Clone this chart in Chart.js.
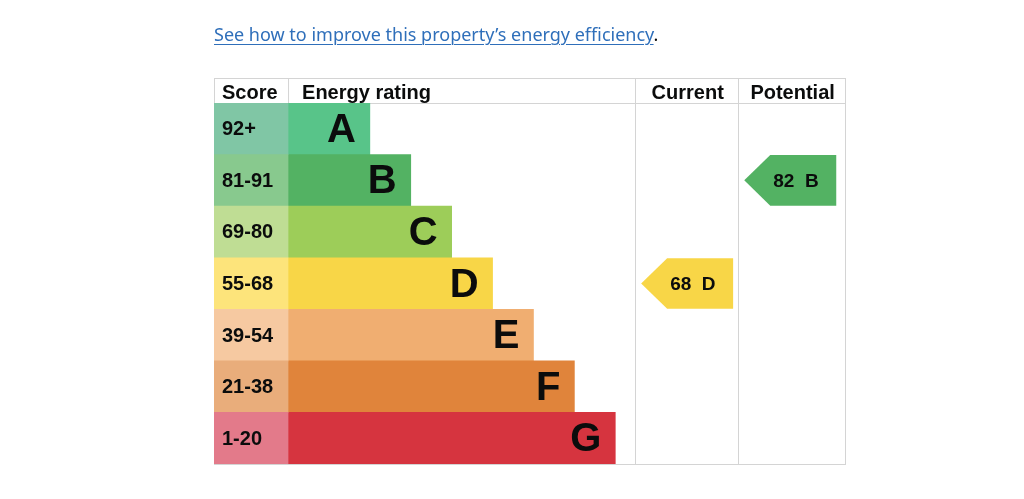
<!DOCTYPE html>
<html lang="en">
<head>
<meta charset="UTF-8">
<title>Energy rating</title>
<style>
  body { margin: 0; background: #fff; }
  .wrap { position: relative; width: 1024px; height: 499px; }
  #ratingChart { position: absolute; left: 0; top: 0; }
  .improve {
    position: absolute; left: 214px; top: 22px; margin: 0;
    font-family: "Noto Sans", Arial, sans-serif; font-size: 18px; color: #0b0c0c;
  }
  .improve a {
    color: #2f6fba; text-decoration: underline;
    text-decoration-thickness: 1px; text-underline-offset: 3px;
  }
</style>
</head>
<body>
<div class="wrap">
  <canvas id="ratingChart" width="1024" height="499"></canvas>
  <p class="improve"><a href="#">See how to improve this property’s energy efficiency</a>.</p>
</div>

<script src="https://cdn.jsdelivr.net/npm/chart.js"></script>
<script>
    const bands = ['A', 'B', 'C', 'D', 'E', 'F', 'G'];
    const scoreRanges = ['92+', '81-91', '69-80', '55-68', '39-54', '21-38', '1-20'];
    const bandMin = [92, 81, 69, 55, 39, 21, 1];
    const barLength = [2, 3, 4, 5, 6, 7, 8];
    const bandColours = ['#58c489', '#53b263', '#9dcd59', '#f8d647', '#f0ae71', '#e0843b', '#d6343f'];
    const scoreColours = ['#80c6a5', '#88c98e', '#bfdd94', '#fde47b', '#f6c9a1', '#e9ad7b', '#e37a8a'];
    const currentScore = 68;
    const potentialScore = 82;

    // column edges, in bar-length units
    const colScore = -1.81;
    const colCurrent = 8.51;
    const colPotential = 11.03;
    const colEnd = 13.64;

    const textColour = '#0b0c0c';
    const lineColour = '#d4d4d4';
    const fontFamily = '"Liberation Sans", Arial, sans-serif';

    function bandFor(score) {
        for (let i = 0; i < bandMin.length; i++) {
            if (score >= bandMin[i]) return i;
        }
        return bandMin.length - 1;
    }

    const epcPlugin = {
        id: 'epc',
        beforeDatasetsDraw(chart) {
            const { ctx, chartArea, scales } = chart;
            const x = scales.x;
            const top = chartArea.top - 25;
            const bottom = chartArea.bottom;
            ctx.save();
            ctx.strokeStyle = lineColour;
            ctx.lineWidth = 1;
            ctx.beginPath();
            // horizontal lines
            [top, chartArea.top, bottom].forEach(y => {
                ctx.moveTo(chartArea.left, y + 0.5);
                ctx.lineTo(chartArea.right, y + 0.5);
            });
            // header-only dividers
            [x.getPixelForValue(colScore), x.getPixelForValue(0)].forEach(px => {
                ctx.moveTo(px + 0.5, top);
                ctx.lineTo(px + 0.5, chartArea.top);
            });
            // full height dividers
            [colCurrent, colPotential, colEnd].forEach(v => {
                const px = Math.round(x.getPixelForValue(v));
                ctx.moveTo(px - 0.5, top);
                ctx.lineTo(px - 0.5, bottom + 1);
            });
            ctx.moveTo(chartArea.left + 0.5, chartArea.top);
            ctx.lineTo(chartArea.left + 0.5, bottom + 1);
            ctx.stroke();

            // header text
            ctx.fillStyle = textColour;
            ctx.font = 'bold 20px ' + fontFamily;
            ctx.textBaseline = 'alphabetic';
            const base = chartArea.top - 4;
            ctx.textAlign = 'left';
            ctx.fillText('Score', chartArea.left + 8, base);
            ctx.fillText('Energy rating', x.getPixelForValue(0) + 14, base);
            ctx.textAlign = 'center';
            ctx.fillText('Current', (x.getPixelForValue(colCurrent) + x.getPixelForValue(colPotential)) / 2, base);
            ctx.fillText('Potential', (x.getPixelForValue(colPotential) + x.getPixelForValue(colEnd)) / 2, base);
            ctx.restore();
        },
        afterDatasetsDraw(chart) {
            const { ctx, chartArea, scales } = chart;
            const x = scales.x, y = scales.y;
            const rowH = chartArea.height / bands.length;
            ctx.save();
            ctx.fillStyle = textColour;
            ctx.textBaseline = 'middle';

            // score ranges
            ctx.font = 'bold 20px ' + fontFamily;
            ctx.textAlign = 'left';
            scoreRanges.forEach((label, i) => {
                ctx.fillText(label, chartArea.left + 8, y.getPixelForValue(i) + 1);
            });

            // band letters
            ctx.font = 'bold 40px ' + fontFamily;
            ctx.textAlign = 'right';
            bands.forEach((band, i) => {
                ctx.fillText(band, x.getPixelForValue(barLength[i]) - 14, y.getPixelForValue(i) + 2);
            });

            // current / potential arrows
            const arrow = (score, colLeft) => {
                const i = bandFor(score);
                const yc = y.getPixelForValue(i);
                const h = rowH / 2 - 0.5;
                const x0 = x.getPixelForValue(colLeft) + 5;
                ctx.fillStyle = bandColours[i];
                ctx.beginPath();
                ctx.moveTo(x0, yc);
                ctx.lineTo(x0 + 26, yc - h);
                ctx.lineTo(x0 + 92, yc - h);
                ctx.lineTo(x0 + 92, yc + h);
                ctx.lineTo(x0 + 26, yc + h);
                ctx.closePath();
                ctx.fill();
                ctx.fillStyle = textColour;
                ctx.font = 'bold 19px ' + fontFamily;
                ctx.textAlign = 'left';
                ctx.fillText(score + '  ' + bands[i], x0 + 29, yc + 1);
            };
            arrow(currentScore, colCurrent);
            arrow(potentialScore, colPotential);
            ctx.restore();
        }
    };

    const ctx = document.getElementById('ratingChart').getContext('2d');
    const chart = new Chart(ctx, {
        type: 'bar',
        data: {
            labels: bands,
            datasets: [
                {
                    label: 'Score',
                    data: bands.map(() => [colScore, 0]),
                    backgroundColor: scoreColours,
                    grouped: false,
                    borderWidth: 0,
                    categoryPercentage: 1,
                    barPercentage: 1
                },
                {
                    label: 'Energy rating',
                    data: barLength.map(v => [0, v]),
                    backgroundColor: bandColours,
                    grouped: false,
                    borderWidth: 0,
                    categoryPercentage: 1,
                    barPercentage: 1
                }
            ]
        },
        options: {
            indexAxis: 'y',
            responsive: false,
            animation: false,
            layout: { padding: { left: 214, right: 178, top: 103, bottom: 35 } },
            plugins: {
                legend: { display: false },
                tooltip: { enabled: false }
            },
            scales: {
                x: { type: 'linear', min: colScore, max: colEnd, display: false },
                y: { display: false }
            }
        },
        plugins: [epcPlugin]
    });
</script>
</body>
</html>
